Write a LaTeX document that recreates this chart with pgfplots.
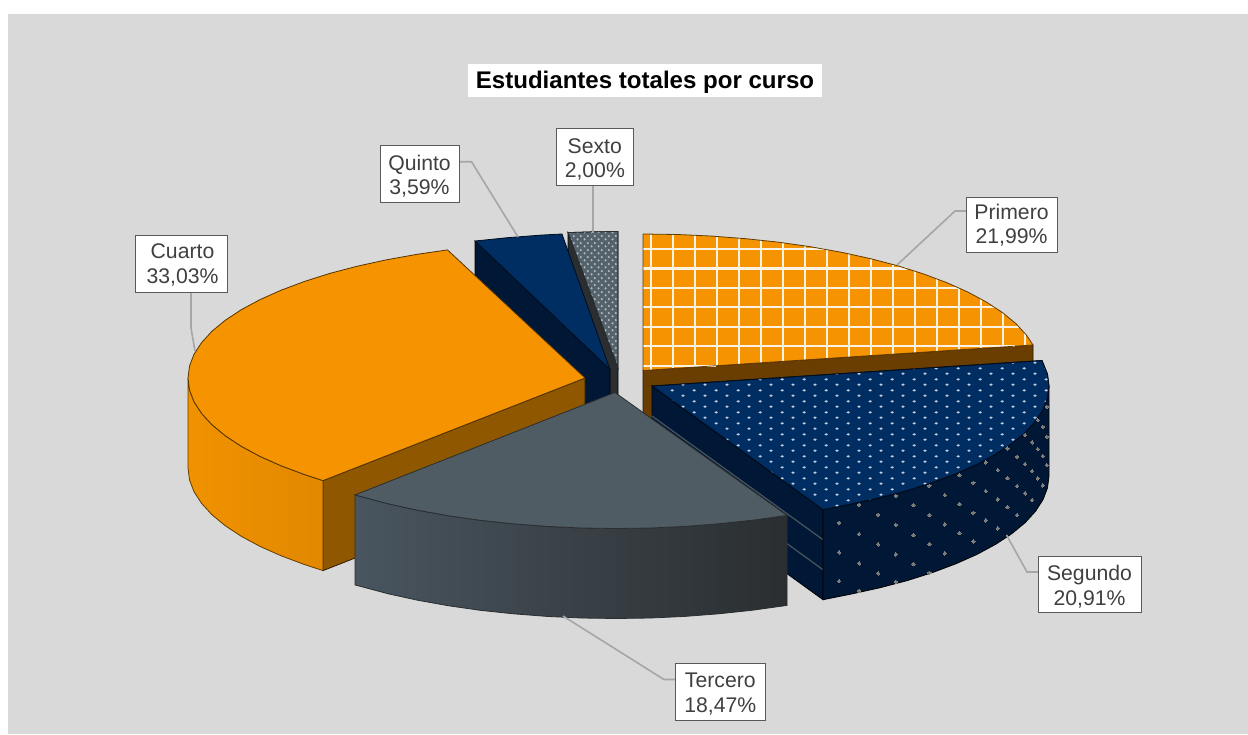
\documentclass[border=0pt]{standalone}
\usepackage{fontspec}
\setmainfont{Liberation Sans}
\usepackage{pgfplots}
\pgfplotsset{compat=1.18}
\usetikzlibrary{patterns}

\definecolor{panel}{RGB}{217,217,217}
\definecolor{leader}{RGB}{166,166,166}
\definecolor{boxedge}{RGB}{89,89,89}
\definecolor{labeltext}{RGB}{64,64,64}
\definecolor{naranja}{RGB}{245,148,0}
\definecolor{naranjaA}{RGB}{240,146,0}
\definecolor{naranjaB}{RGB}{226,136,0}
\definecolor{marron}{RGB}{143,88,0}
\definecolor{marronosc}{RGB}{106,62,0}
\definecolor{azul}{RGB}{0,45,98}
\definecolor{azulosc}{RGB}{0,24,54}
\definecolor{pizarra}{RGB}{80,92,99}
\definecolor{pizarraA}{RGB}{73,85,95}
\definecolor{pizarraM}{RGB}{60,68,75}
\definecolor{pizarraB}{RGB}{42,46,48}
\definecolor{sexto}{RGB}{84,98,108}
\definecolor{sextopunto}{RGB}{178,185,192}
\definecolor{rejilla}{RGB}{252,243,228}
\definecolor{puntos}{RGB}{190,205,225}
\definecolor{puntosB}{RGB}{128,127,122}

% tramas: el origen de cada baldosa cae en la esquina inferior izquierda de la pagina
\pgfdeclarepatternformonly{puntossegundo}{\pgfqpoint{0pt}{0pt}}{\pgfqpoint{11.135pt}{5.375pt}}{\pgfqpoint{11.135pt}{5.375pt}}{
  \pgfpathellipse{\pgfqpoint{2.68pt}{3.875pt}}{\pgfqpoint{0.9pt}{0pt}}{\pgfqpoint{0pt}{0.62pt}}
  \pgfpathellipse{\pgfqpoint{8.25pt}{1.19pt}}{\pgfqpoint{0.9pt}{0pt}}{\pgfqpoint{0pt}{0.62pt}}
  \pgfusepath{fill}
}
\pgfdeclarepatternformonly{puntossexto}{\pgfqpoint{0pt}{0pt}}{\pgfqpoint{3.35pt}{3.6pt}}{\pgfqpoint{3.35pt}{3.6pt}}{
  \pgfpathellipse{\pgfqpoint{0.8pt}{0.9pt}}{\pgfqpoint{0.6pt}{0pt}}{\pgfqpoint{0pt}{0.65pt}}
  \pgfpathellipse{\pgfqpoint{2.475pt}{2.7pt}}{\pgfqpoint{0.6pt}{0pt}}{\pgfqpoint{0pt}{0.65pt}}
  \pgfusepath{fill}
}

\tikzset{
  etiqueta/.style={font=\fontsize{10.6}{12.2}\selectfont,align=center,text=labeltext,inner sep=0pt},
  caja/.style={fill=white,draw=boxedge,line width=0.5pt},
  guia/.style={draw=leader,line width=0.8pt},
}

\begin{document}
\begin{tikzpicture}
\begin{axis}[
  scale only axis,
  width=624pt, height=367pt,
  xmin=0, xmax=1248,
  ymin=0, ymax=734,
  y dir=reverse,
  hide axis,
  clip=true,
  unbounded coords=jump,
]
% fondo
\addplot[fill=white,draw=none] coordinates {(0,0) (1248,0) (1248,734) (0,734)} -- cycle;
\addplot[fill=panel,draw=none] coordinates {(8,14) (1248,14) (1248,734) (8,734)} -- cycle;

% Sexto
\addplot[fill=pizarraB,draw=black,line width=0.3pt] coordinates {(568,232.6) (618,368) (618,458) (568,322.6)} -- cycle;
\addplot[preaction={fill=sexto},pattern=puntossexto,pattern color=sextopunto,draw=pizarraB,line width=0.4pt]
  coordinates {(568,232.6) (593,231.8) (618,231.5) (618,368)} -- cycle;

% Quinto
\addplot[fill=azulosc,draw=black,line width=0.3pt] coordinates {(475,241) (610,369.5) (610,459.5) (475,331)} -- cycle;
\addplot[fill=azul,draw=black!70!azul,line width=0.4pt]
  coordinates {(475,241) (507.3,237.7) (541.1,235.1) (562,234) (610,369.5)} -- cycle;

% Primero
\addplot[fill=marronosc,draw=black!60!marronosc,line width=0.4pt] coordinates {(643,370.5) (1033,345) (1033,435) (643,460.5)} -- cycle;
\addplot[fill=naranja,draw=none]
  coordinates {(643,234) (677.6,234.5) (711.9,236.1) (745.7,238.7) (778.8,242.2) (810.8,246.8) (841.5,252.3)
    (870.7,258.7) (898.2,265.9) (923.7,274) (947.1,282.8) (968.2,292.2) (986.8,302.3) (1002.8,312.8)
    (1016.1,323.8) (1026.5,335.2) (1033,345) (643,370.5)} -- cycle;
\addplot[draw=rejilla,line width=1.1pt] coordinates {
  (651,234) (651,370) (nan,nan) (673,234.4) (673,368.5) (nan,nan) (695,235.2) (695,367.1) (nan,nan)
  (717,236.4) (717,365.7) (nan,nan) (739,238.05) (739,364.2) (nan,nan) (761,240.2) (761,362.8) (nan,nan)
  (783,242.8) (783,361.3) (nan,nan) (805,245.9) (805,359.9) (nan,nan) (827,249.5) (827,358.5) (nan,nan)
  (849,253.8) (849,357) (nan,nan) (871,258.8) (871,355.6) (nan,nan) (893,264.5) (893,354.1) (nan,nan)
  (915,271.1) (915,352.7) (nan,nan) (937,278.8) (937,351.3) (nan,nan) (959,287.9) (959,349.8) (nan,nan)
  (981,298.9) (981,348.4) (nan,nan) (1003,313) (1003,347) (nan,nan) (1025,333.3) (1025,345.5) (nan,nan)
  (643,249) (824,249) (nan,nan) (643,268.4) (906.5,268.4) (nan,nan) (643,287.9) (959,287.9) (nan,nan)
  (643,307.3) (994.9,307.3) (nan,nan) (643,326.8) (1019.1,326.8) (nan,nan) (643,346.2) (1014.6,346.2) (nan,nan)
  (643,365.7) (716.4,365.7)};
\addplot[draw=black!60!naranja,line width=0.4pt]
  coordinates {(643,234) (677.6,234.5) (711.9,236.1) (745.7,238.7) (778.8,242.2) (810.8,246.8) (841.5,252.3)
    (870.7,258.7) (898.2,265.9) (923.7,274) (947.1,282.8) (968.2,292.2) (986.8,302.3) (1002.8,312.8)
    (1016.1,323.8) (1026.5,335.2) (1033,345) (643,370.5)} -- cycle;

% Cuarto
\addplot[fill=marron,draw=black!70!marron,line width=0.4pt] coordinates {(585,378) (323,480.6) (323,570.6) (585,468)} -- cycle;
\addplot[left color=naranjaA,right color=naranjaB,draw=black!60!naranja,line width=0.4pt]
  coordinates {(188,378) (189.5,389.9) (194,401.7) (201.5,413.3) (211.9,424.7) (225.2,435.7) (241.2,446.25)
    (259.8,456.3) (280.9,465.7) (304.3,474.5) (323,480.6) (323,570.6) (304.3,564.5) (280.9,555.7) (259.8,546.3)
    (241.2,536.25) (225.2,525.7) (211.9,514.7) (201.5,503.3) (194,491.7) (189.5,479.9) (188,468)} -- cycle;
\addplot[fill=naranja,draw=black!65!naranja,line width=0.4pt]
  coordinates {(447.5,249.9) (417.2,254.3) (386.5,259.8) (357.3,266.2) (329.8,273.4) (304.3,281.5) (280.9,290.3)
    (259.8,299.7) (241.2,309.75) (225.2,320.3) (211.9,331.3) (201.5,342.7) (194,354.3) (189.5,366.1) (188,378)
    (189.5,389.9) (194,401.7) (201.5,413.3) (211.9,424.7) (225.2,435.7) (241.2,446.25) (259.8,456.3)
    (280.9,465.7) (304.3,474.5) (323,480.6) (585,378)} -- cycle;

% Segundo
\addplot[fill=azulosc,draw=black,line width=0.4pt] coordinates {(652,386) (823,509.7) (823,599.7) (652,476)} -- cycle;
\addplot[draw=pizarraA,line width=0.6pt] coordinates {(652,416) (823,539.7)};
\addplot[draw=pizarraA,line width=0.6pt] coordinates {(652,446) (823,569.7)};
\addplot[fill=azulosc,draw=black,line width=0.4pt]
  coordinates {(1049,386) (1047.5,397.9) (1043,409.7) (1035.5,421.3) (1025.1,432.7) (1011.8,443.7) (995.8,454.25)
    (977.2,464.3) (956.1,473.7) (932.7,482.5) (907.2,490.6) (879.7,497.8) (850.5,504.2) (823,509.7)
    (823,599.7) (850.5,594.2) (879.7,587.8) (907.2,580.6) (932.7,572.5) (956.1,563.7) (977.2,554.3)
    (995.8,544.25) (1011.8,533.7) (1025.1,522.7) (1035.5,511.3) (1043,499.7) (1047.5,487.9) (1049,476)} -- cycle;
\addplot[only marks,color=puntosB,mark=*,mark size=0.85pt,mark options={solid,draw=puntosB,fill=puntosB,line width=0pt}] coordinates {
  (839,522.7) (839,552.3) (839,581) (859,504.7) (859,534) (859,563.3) (859,590.7)
  (878,514.7) (878,544.3) (878,573.3) (895.7,495.7) (895.7,524.7) (895.7,554.3) (895.7,581.7)
  (913.3,505) (913.3,535) (913.3,564) (929.3,485.7) (929.3,515) (929.3,544) (929.3,572.7)
  (944.7,495) (944.7,524.3) (944.7,553.3) (959.3,475) (959.3,504) (959.3,533)
  (973.3,482.7) (973.3,512.7) (973.3,541.3) (985.7,462.3) (985.7,491) (985.7,520.3)
  (997.7,470) (997.7,499.3) (997.7,528.3) (1007.3,448.3) (1007.3,478) (1007.3,507)
  (1017,456.7) (1017,486) (1017,515) (1025,435) (1025,464) (1025,493.3)
  (1032,442.3) (1032,471) (1032,500) (1037.7,420) (1037.7,449) (1037.7,478.3)
  (1042.7,426.7) (1042.7,456) (1042.7,485.3) (1046.7,406.7) (1046.7,436.7) (1046.7,465)};
\addplot[preaction={fill=azul},pattern=puntossegundo,pattern color=puntos,draw=black!70!azul,line width=0.4pt]
  coordinates {(652,386) (1042,360.5) (1047.5,374.1) (1049,386) (1047.5,397.9) (1043,409.7) (1035.5,421.3)
    (1025.1,432.7) (1011.8,443.7) (995.8,454.25) (977.2,464.3) (956.1,473.7) (932.7,482.5) (907.2,490.6)
    (879.7,497.8) (850.5,504.2) (823,509.7)} -- cycle;

% Tercero
\addplot[left color=pizarraA,middle color=pizarraM,right color=pizarraB,draw=pizarraB,line width=0.4pt]
  coordinates {(355,494.9) (388.3,503.8) (417.5,510.2) (448.2,515.7) (480.2,520.3) (513.3,523.8) (547.1,526.4)
    (581.4,528) (616,528.5) (650.6,528) (684.9,526.4) (718.7,523.8) (751.8,520.3) (787,515.4)
    (787,605.4) (751.8,610.3) (718.7,613.8) (684.9,616.4) (650.6,618) (616,618.5) (581.4,618) (547.1,616.4)
    (513.3,613.8) (480.2,610.3) (448.2,605.7) (417.5,600.2) (388.3,593.8) (355,584.9)} -- cycle;
\addplot[fill=pizarra,draw=pizarraB,line width=0.4pt]
  coordinates {(615,392.5) (787,515.4) (751.8,520.3) (718.7,523.8) (684.9,526.4) (650.6,528) (616,528.5)
    (581.4,528) (547.1,526.4) (513.3,523.8) (480.2,520.3) (448.2,515.7) (417.5,510.2) (388.3,503.8) (355,494.9)} -- cycle;

% lineas guia
\addplot[guia] coordinates {(967,211) (955,211) (897,265)};
\addplot[guia] coordinates {(1038,572) (1027,572) (1006.5,535)};
\addplot[guia] coordinates {(675,679.5) (664,679.5) (563,616)};
\addplot[guia] coordinates {(191,292) (191,328) (195,351)};
\addplot[guia] coordinates {(459,161.7) (471.5,161.7) (518,237)};
\addplot[guia] coordinates {(593,185) (593,233)};

% cajas de etiqueta
\addplot[fill=white,draw=none] coordinates {(468,64) (822,64) (822,97) (468,97)} -- cycle;
\addplot[caja] coordinates {(966,197) (1057,197) (1057,252.3) (966,252.3)} -- cycle;
\addplot[caja] coordinates {(1038,556) (1141,556) (1141,612) (1038,612)} -- cycle;
\addplot[caja] coordinates {(675,663) (765.7,663) (765.7,720) (675,720)} -- cycle;
\addplot[caja] coordinates {(135,235) (227,235) (227,292) (135,292)} -- cycle;
\addplot[caja] coordinates {(380,145.7) (459,145.7) (459,202.3) (380,202.3)} -- cycle;
\addplot[caja] coordinates {(556.3,128) (633.3,128) (633.3,185) (556.3,185)} -- cycle;

\node[font=\fontsize{12.03}{14}\selectfont\bfseries,text=black,inner sep=0pt] at (axis cs:645,82.5) {Estudiantes totales por curso};
\node[etiqueta] at (axis cs:1011.5,225) {Primero\\21,99\%};
\node[etiqueta] at (axis cs:1089.5,586.5) {Segundo\\20,91\%};
\node[etiqueta] at (axis cs:720.3,694) {Tercero\\18,47\%};
\node[etiqueta] at (axis cs:182.5,265) {Cuarto\\33,03\%};
\node[etiqueta] at (axis cs:419.5,176) {Quinto\\3,59\%};
\node[etiqueta] at (axis cs:594.8,159.5) {Sexto\\2,00\%};
\end{axis}
\end{tikzpicture}
\end{document}
